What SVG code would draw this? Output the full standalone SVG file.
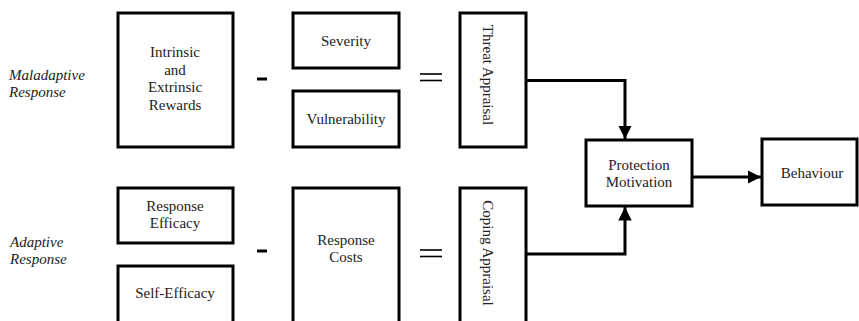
<svg xmlns="http://www.w3.org/2000/svg" width="859" height="321" viewBox="0 0 859 321">
<defs>
<style>
.box{fill:#fff;stroke:#000;stroke-width:3}
.t{font-family:"Liberation Serif","Times New Roman",serif;font-size:15px;fill:#222;text-anchor:middle}
.lab{font-family:"Liberation Serif","Times New Roman",serif;font-size:15px;font-style:italic;fill:#222}
.con{fill:none;stroke:#000;stroke-width:3}
.op{stroke:#000;stroke-width:3}
.op2{stroke:#000;stroke-width:1.6}
</style>
<marker id="ah" viewBox="0 0 10 10" refX="10" refY="5" markerWidth="4.5" markerHeight="4.5" markerUnits="strokeWidth" orient="auto">
<path d="M0,0 L10,5 L0,10 Z" fill="#000"/>
</marker>
</defs>
<rect width="859" height="321" fill="#fff"/>

<g id="label-maladaptive">
<text class="lab" x="9" y="80">Maladaptive</text>
<text class="lab" x="9" y="97">Response</text>
</g>
<g id="label-adaptive">
<text class="lab" x="10" y="247">Adaptive</text>
<text class="lab" x="10" y="264">Response</text>
</g>

<g id="rewards">
<rect class="box" x="118" y="13" width="115" height="134"/>
<text class="t" x="175" y="57">Intrinsic</text>
<text class="t" x="175" y="74.5">and</text>
<text class="t" x="175" y="92">Extrinsic</text>
<text class="t" x="175" y="110">Rewards</text>
</g>
<g id="severity">
<rect class="box" x="293" y="13" width="106" height="55"/>
<text class="t" x="346" y="46">Severity</text>
</g>
<g id="vulnerability">
<rect class="box" x="293" y="91" width="106" height="56"/>
<text class="t" x="346" y="124">Vulnerability</text>
</g>
<g id="threat-appraisal">
<rect class="box" x="460" y="13" width="66" height="134"/>
<text class="t" transform="translate(488,75) rotate(90)" dominant-baseline="central">Threat Appraisal</text>
</g>

<g id="response-efficacy">
<rect class="box" x="118" y="188" width="115" height="55"/>
<text class="t" x="175" y="211">Response</text>
<text class="t" x="175" y="228">Efficacy</text>
</g>
<g id="self-efficacy">
<rect class="box" x="118" y="266" width="115" height="62"/>
<text class="t" x="175" y="298">Self-Efficacy</text>
</g>
<g id="response-costs">
<rect class="box" x="293" y="188" width="106" height="140"/>
<text class="t" x="346" y="245">Response</text>
<text class="t" x="346" y="262">Costs</text>
</g>
<g id="coping-appraisal">
<rect class="box" x="460" y="188" width="66" height="140"/>
<text class="t" transform="translate(488,253) rotate(90)" dominant-baseline="central">Coping Appraisal</text>
</g>

<g id="protection-motivation">
<rect class="box" x="586" y="140" width="106" height="66"/>
<text class="t" x="639" y="170">Protection</text>
<text class="t" x="639" y="187">Motivation</text>
</g>
<g id="behaviour">
<rect class="box" x="762" y="139" width="95" height="66"/>
<text class="t" x="812" y="178">Behaviour</text>
</g>

<g id="operators">
<line class="op" x1="257" y1="79" x2="267" y2="79"/>
<line class="op2" x1="420" y1="74" x2="442" y2="74"/>
<line class="op2" x1="420" y1="80.5" x2="442" y2="80.5"/>
<line class="op" x1="257" y1="251" x2="267" y2="251"/>
<line class="op2" x1="420" y1="250" x2="442" y2="250"/>
<line class="op2" x1="420" y1="256.5" x2="442" y2="256.5"/>
</g>

<g id="connectors">
<path class="con" d="M526,80.5 H625 V139" marker-end="url(#ah)"/>
<path class="con" d="M526,254 H625 V207" marker-end="url(#ah)"/>
<path class="con" d="M692,177 H761" marker-end="url(#ah)"/>
</g>
</svg>
